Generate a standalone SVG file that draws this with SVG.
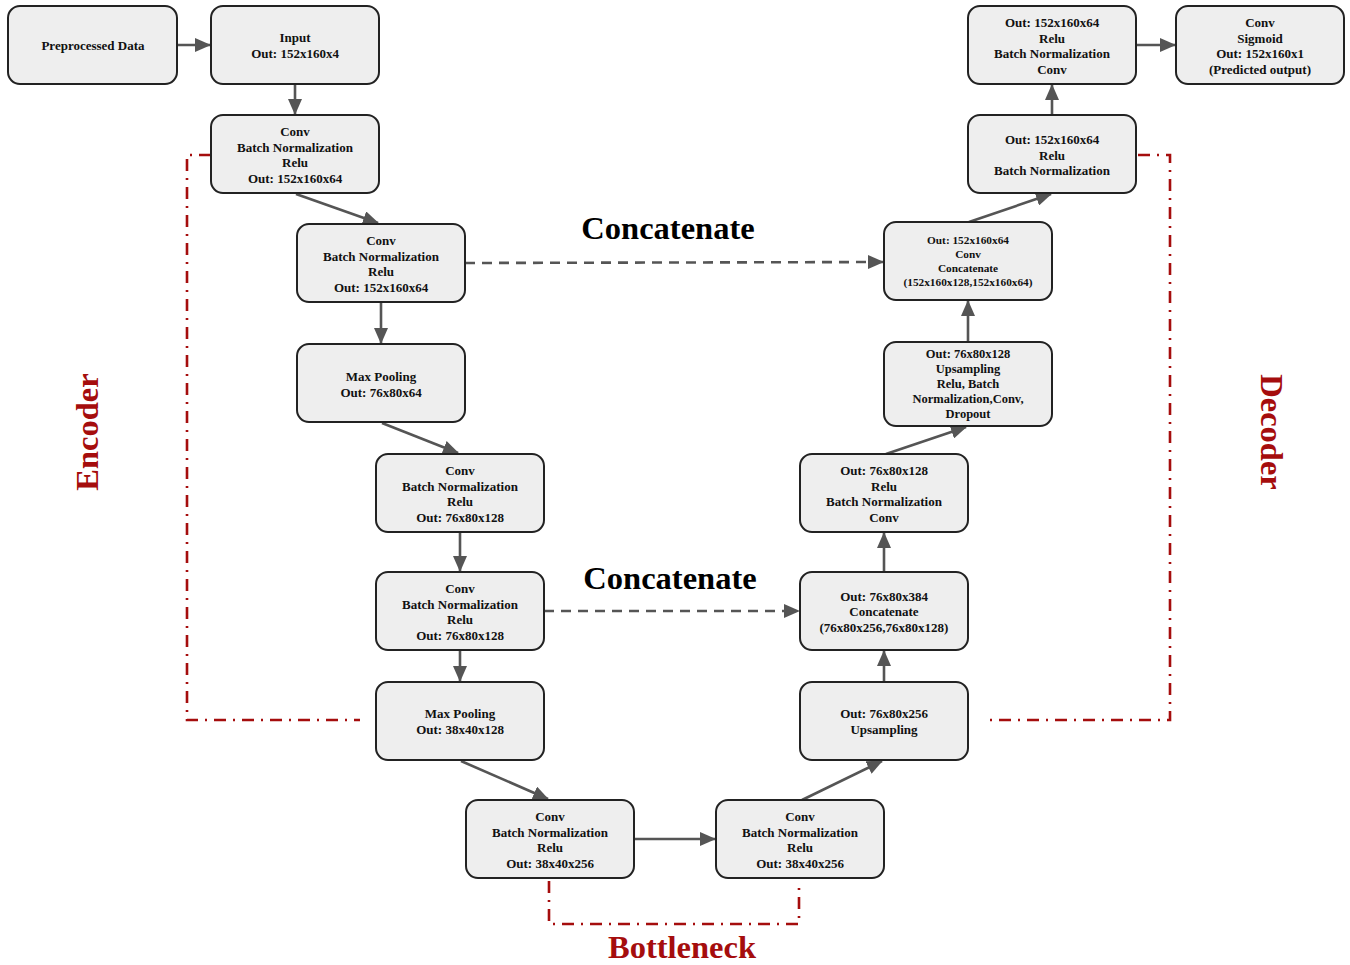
<svg xmlns="http://www.w3.org/2000/svg" width="1350" height="965" viewBox="0 0 1350 965">
<defs>
<style>
.n rect{fill:#eeeeee;stroke:#222;stroke-width:2}
.n text{font-family:"Liberation Serif",serif;font-weight:bold;font-size:13px;fill:#111;text-anchor:middle}
.c line{stroke:#555;stroke-width:2.6;fill:none}
.d{stroke:#555;stroke-width:2.6;stroke-dasharray:10 7;fill:none}
.r{stroke:#a50d0d;stroke-width:2.6;fill:none;stroke-dasharray:12 7 2 7}
.big{font-family:"Liberation Serif",serif;font-weight:bold;font-size:32.5px;text-anchor:middle}
</style>
<marker id="ab" markerWidth="16" markerHeight="14" refX="15" refY="7" orient="auto" markerUnits="userSpaceOnUse" viewBox="0 0 16 14"><path d="M0,0 L16,7 L0,14 z" fill="#555"/></marker>
</defs>
<g id="brackets">
<polyline class="r" points="211,155 187,155 187,720 360,720"/>
<polyline class="r" points="1138,155 1170,155 1170,720 988,720"/>
<polyline class="r" points="549,881 549,924 799,924 799,881"/>
</g>
<g id="connectors" class="c">
<line x1="177" y1="45" x2="210" y2="45" marker-end="url(#ab)"/>
<line x1="295" y1="84" x2="295" y2="114" marker-end="url(#ab)"/>
<line x1="296" y1="194" x2="378" y2="223" marker-end="url(#ab)"/>
<line x1="381" y1="302" x2="381" y2="343" marker-end="url(#ab)"/>
<line x1="382" y1="423" x2="458" y2="453" marker-end="url(#ab)"/>
<line x1="460" y1="532" x2="460" y2="571" marker-end="url(#ab)"/>
<line x1="460" y1="650" x2="460" y2="681" marker-end="url(#ab)"/>
<line x1="461" y1="761" x2="548" y2="799" marker-end="url(#ab)"/>
<line x1="634" y1="839" x2="715" y2="839" marker-end="url(#ab)"/>
<line x1="802" y1="800" x2="882" y2="761" marker-end="url(#ab)"/>
<line x1="884" y1="682" x2="884" y2="651" marker-end="url(#ab)"/>
<line x1="884" y1="572" x2="884" y2="533" marker-end="url(#ab)"/>
<line x1="886" y1="454" x2="966" y2="427" marker-end="url(#ab)"/>
<line x1="968" y1="342" x2="968" y2="301" marker-end="url(#ab)"/>
<line x1="969" y1="222" x2="1051" y2="194" marker-end="url(#ab)"/>
<line x1="1052" y1="115" x2="1052" y2="85" marker-end="url(#ab)"/>
<line x1="1136" y1="45" x2="1175" y2="45" marker-end="url(#ab)"/>
<line class="d" x1="465" y1="263" x2="883" y2="262" marker-end="url(#ab)"/>
<line class="d" x1="544" y1="611" x2="799" y2="611" marker-end="url(#ab)"/>
</g>
<g id="labels">
<text class="big" x="668" y="239" fill="#000">Concatenate</text>
<text class="big" x="670" y="589" fill="#000">Concatenate</text>
<text class="big" x="682" y="958" fill="#a50d0d">Bottleneck</text>
<text class="big" transform="translate(98,432) rotate(-90)" fill="#a50d0d">Encoder</text>
<text class="big" transform="translate(1261,432) rotate(90)" fill="#a50d0d">Decoder</text>
</g>
<g id="n1" class="n"><rect x="8" y="6" width="169" height="78" rx="12"/><text x="93" y="50">Preprocessed Data</text></g>
<g id="n2" class="n"><rect x="211" y="6" width="168" height="78" rx="12"/><text x="295" y="42">Input</text><text x="295" y="58">Out: 152x160x4</text></g>
<g id="n3" class="n"><rect x="211" y="115" width="168" height="78" rx="12"/><text x="295" y="136">Conv</text><text x="295" y="151.5">Batch Normalization</text><text x="295" y="167">Relu</text><text x="295" y="182.5">Out: 152x160x64</text></g>
<g id="n4" class="n"><rect x="297" y="224" width="168" height="78" rx="12"/><text x="381" y="245">Conv</text><text x="381" y="260.5">Batch Normalization</text><text x="381" y="276">Relu</text><text x="381" y="291.5">Out: 152x160x64</text></g>
<g id="n5" class="n"><rect x="297" y="344" width="168" height="78" rx="12"/><text x="381" y="381">Max Pooling</text><text x="381" y="396.5">Out: 76x80x64</text></g>
<g id="n6" class="n"><rect x="376" y="454" width="168" height="78" rx="12"/><text x="460" y="475">Conv</text><text x="460" y="490.5">Batch Normalization</text><text x="460" y="506">Relu</text><text x="460" y="521.5">Out: 76x80x128</text></g>
<g id="n7" class="n"><rect x="376" y="572" width="168" height="78" rx="12"/><text x="460" y="593">Conv</text><text x="460" y="608.5">Batch Normalization</text><text x="460" y="624">Relu</text><text x="460" y="639.5">Out: 76x80x128</text></g>
<g id="n8" class="n"><rect x="376" y="682" width="168" height="78" rx="12"/><text x="460" y="718">Max Pooling</text><text x="460" y="733.5">Out: 38x40x128</text></g>
<g id="n9" class="n"><rect x="466" y="800" width="168" height="78" rx="12"/><text x="550" y="821">Conv</text><text x="550" y="836.5">Batch Normalization</text><text x="550" y="852">Relu</text><text x="550" y="867.5">Out: 38x40x256</text></g>
<g id="n10" class="n"><rect x="716" y="800" width="168" height="78" rx="12"/><text x="800" y="821">Conv</text><text x="800" y="836.5">Batch Normalization</text><text x="800" y="852">Relu</text><text x="800" y="867.5">Out: 38x40x256</text></g>
<g id="n11" class="n"><rect x="800" y="682" width="168" height="78" rx="12"/><text x="884" y="718">Out: 76x80x256</text><text x="884" y="733.5">Upsampling</text></g>
<g id="n12" class="n"><rect x="800" y="572" width="168" height="78" rx="12"/><text x="884" y="600.5">Out: 76x80x384</text><text x="884" y="616">Concatenate</text><text x="884" y="631.5">(76x80x256,76x80x128)</text></g>
<g id="n13" class="n"><rect x="800" y="454" width="168" height="78" rx="12"/><text x="884" y="475">Out: 76x80x128</text><text x="884" y="490.5">Relu</text><text x="884" y="506">Batch Normalization</text><text x="884" y="521.5">Conv</text></g>
<g id="n14" class="n"><rect x="884" y="342" width="168" height="84" rx="12"/><text x="968" y="358" style="font-size:12.5px">Out: 76x80x128</text><text x="968" y="373" style="font-size:12.5px">Upsampling</text><text x="968" y="388" style="font-size:12.5px">Relu, Batch</text><text x="968" y="403" style="font-size:12.5px">Normalization,Conv,</text><text x="968" y="418" style="font-size:12.5px">Dropout</text></g>
<g id="n15" class="n"><rect x="884" y="222" width="168" height="78" rx="12"/><text x="968" y="244" style="font-size:11.3px">Out: 152x160x64</text><text x="968" y="258" style="font-size:11.3px">Conv</text><text x="968" y="272" style="font-size:11.3px">Concatenate</text><text x="968" y="286" style="font-size:11.3px">(152x160x128,152x160x64)</text></g>
<g id="n16" class="n"><rect x="968" y="115" width="168" height="78" rx="12"/><text x="1052" y="144">Out: 152x160x64</text><text x="1052" y="159.5">Relu</text><text x="1052" y="175">Batch Normalization</text></g>
<g id="n17" class="n"><rect x="968" y="6" width="168" height="78" rx="12"/><text x="1052" y="27">Out: 152x160x64</text><text x="1052" y="42.5">Relu</text><text x="1052" y="58">Batch Normalization</text><text x="1052" y="73.5">Conv</text></g>
<g id="n18" class="n"><rect x="1176" y="6" width="168" height="78" rx="12"/><text x="1260" y="27">Conv</text><text x="1260" y="42.5">Sigmoid</text><text x="1260" y="58">Out: 152x160x1</text><text x="1260" y="73.5">(Predicted output)</text></g>
</svg>
